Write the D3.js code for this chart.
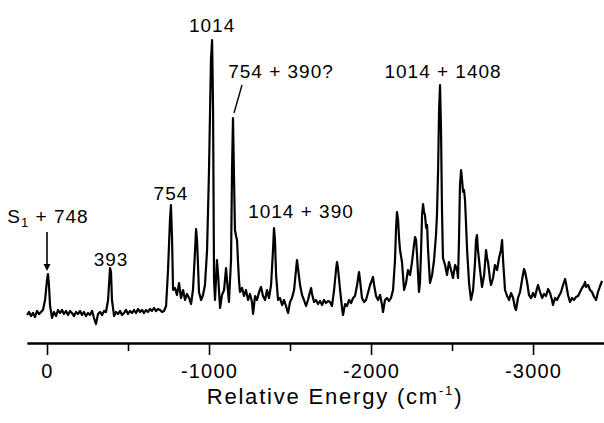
<!DOCTYPE html>
<html>
<head>
  <meta charset="utf-8">
  <title>spectrum</title>
  <script src="https://d3js.org/d3.v7.min.js"></script>
  <style>
  body {
    margin: 0;
    background: white;
  }
  text {
    font-family: "Liberation Sans", Arial, sans-serif;
    fill: black;
  }
  .trace {
    fill: none;
    stroke: black;
    stroke-width: 2.2px;
    stroke-linejoin: round;
  }
  .axis path, .axis line {
    stroke: black;
  }
  .axis path {
    stroke-width: 2px;
  }
  .axis line {
    stroke-width: 1.6px;
  }
  </style>
</head>
<body>
<div id='container'></div>
<script>

// relative energy (cm-1) and intensity (arb. units)
var energy = [123, 111, 99, 86, 74, 62, 49, 37, 25, 12, 0, -6, -12, -19, -31, -43, -56, -68, -80, -93,
  -105, -117, -130, -142, -154, -167, -179, -191, -204, -216, -228, -241, -253, -265, -278, -290, -302, -315, -327, -340,
  -352, -364, -377, -389, -395, -401, -414, -426, -438, -451, -463, -475, -488, -500, -512, -525, -537, -549, -562, -574,
  -586, -599, -611, -623, -636, -648, -660, -673, -685, -698, -710, -722, -735, -747, -759, -765, -772, -778, -790, -802,
  -815, -827, -840, -852, -864, -877, -889, -901, -914, -920, -926, -932, -938, -951, -963, -975, -988, -1000, -1012, -1019,
  -1025, -1031, -1037, -1049, -1056, -1068, -1080, -1093, -1105, -1111, -1123, -1136, -1142, -1148, -1154, -1160, -1167, -1173, -1179, -1185,
  -1191, -1204, -1216, -1228, -1241, -1253, -1265, -1272, -1284, -1296, -1309, -1321, -1333, -1346, -1358, -1370, -1383, -1395, -1401, -1407,
  -1414, -1426, -1438, -1451, -1463, -1475, -1488, -1500, -1512, -1525, -1537, -1543, -1549, -1562, -1574, -1586, -1599, -1611, -1623, -1630,
  -1636, -1648, -1660, -1673, -1685, -1698, -1710, -1722, -1735, -1747, -1759, -1772, -1784, -1790, -1796, -1809, -1821, -1827, -1840, -1852,
  -1864, -1877, -1889, -1901, -1914, -1926, -1932, -1944, -1957, -1969, -1981, -1994, -2006, -2012, -2019, -2031, -2043, -2056, -2068, -2074,
  -2086, -2099, -2111, -2123, -2136, -2148, -2154, -2160, -2167, -2173, -2179, -2191, -2204, -2216, -2228, -2241, -2253, -2265, -2272, -2278,
  -2284, -2296, -2302, -2309, -2315, -2321, -2327, -2333, -2340, -2346, -2352, -2364, -2377, -2389, -2401, -2407, -2414, -2420, -2426, -2432,
  -2438, -2444, -2457, -2469, -2481, -2494, -2506, -2519, -2531, -2537, -2543, -2549, -2556, -2562, -2568, -2574, -2580, -2586, -2593, -2605,
  -2617, -2630, -2642, -2648, -2654, -2660, -2673, -2685, -2698, -2710, -2716, -2722, -2735, -2741, -2753, -2765, -2778, -2790, -2802, -2809,
  -2815, -2827, -2840, -2852, -2864, -2877, -2889, -2895, -2907, -2920, -2932, -2944, -2951, -2963, -2975, -2988, -3000, -3012, -3025, -3031,
  -3043, -3056, -3068, -3080, -3093, -3105, -3117, -3123, -3136, -3148, -3160, -3173, -3185, -3198, -3204, -3216, -3228, -3241, -3253, -3265,
  -3278, -3290, -3302, -3315, -3321, -3327, -3340, -3352, -3364, -3377, -3389, -3401, -3414, -3426]

var intensity = [5, 8, 4, 7, 3, 9, 6, 8, 10, 20, 40, 46, 35, 14, 2, 8, 4, 10, 7, 10,
  6, 9, 5, 9, 7, 4, 8, 6, 9, 5, 8, 4, 7, 5, 9, 2, -4, 6, 8, 5,
  9, 8, 20, 52, 48, 20, 4, 8, 6, 9, 5, 7, 10, 6, 9, 7, 10, 7, 11, 8,
  10, 7, 10, 8, 11, 9, 12, 9, 11, 10, 8, 9, 14, 50, 100, 115, 80, 30, 32, 25,
  37, 22, 30, 20, 26, 22, 16, 30, 70, 91, 80, 55, 28, 20, 25, 35, 70, 150, 260, 280,
  210, 40, 20, 60, 45, 12, 25, 30, 52, 40, 18, 60, 150, 202, 145, 90, 84, 80, 58, 40,
  28, 32, 24, 30, 20, 26, 18, 6, 24, 20, 28, 33, 24, 20, 30, 22, 35, 70, 92, 80,
  45, 20, 22, 15, 20, 14, 7, 18, 22, 30, 50, 60, 52, 35, 25, 20, 14, 20, 28, 32,
  26, 18, 20, 16, 19, 15, 20, 17, 19, 18, 14, 30, 50, 58, 52, 30, 12, 5, 16, 14,
  20, 17, 22, 24, 35, 48, 40, 22, 18, 20, 27, 35, 40, 43, 35, 24, 20, 25, 15, 8,
  20, 22, 19, 22, 30, 60, 90, 108, 100, 82, 70, 58, 30, 37, 50, 45, 58, 75, 83, 80,
  65, 28, 37, 70, 105, 116, 108, 105, 92, 95, 70, 37, 45, 60, 85, 105, 150, 210, 235, 190,
  110, 62, 55, 45, 58, 50, 42, 55, 50, 42, 80, 135, 150, 140, 128, 130, 120, 98, 70, 37,
  20, 30, 58, 80, 85, 70, 50, 33, 45, 70, 62, 58, 40, 35, 42, 55, 50, 62, 70, 80,
  60, 30, 24, 20, 27, 22, 12, 10, 22, 28, 40, 51, 48, 38, 25, 22, 27, 23, 32, 35,
  28, 22, 26, 24, 31, 27, 20, 15, 22, 20, 24, 28, 35, 41, 36, 25, 18, 22, 20, 23,
  24, 28, 32, 35, 38, 33, 35, 30, 28, 23, 20, 28, 34, 39]

// assigned peaks
var peakLabels = ['S1 + 748', '393', '754', '1014', '754 + 390?', '1014 + 390', '1014 + 1408']
var peakEnergy = [0, -395, -765, -1019, -1148, -1401, -2426]

var majorTicks = [0, -1000, -2000, -3000]
var minorTicks = [-500, -1500, -2500]

const width = 604
const height = 423

var data = energy.map((e, i) => ({e: e, v: intensity[i]}))

var svg = d3.select('#container')
  .append('svg')
  .attr('width', width)
  .attr('height', height)

var x = d3.scaleLinear()
  .domain([123.5, -3438])
  .range([27, 604])

var y = d3.scaleLinear()
  .domain([0, 280])
  .range([320, 40])

var axisY = 343

svg.append('g')
  .attr('class', 'axis')
  .attr('transform', 'translate(0,' + axisY + ')')
  .call(d3.axisBottom(x).tickValues(minorTicks).tickSize(8).tickSizeOuter(0).tickFormat(''))
  .call(g => g.selectAll('text').remove())

var xAxis = svg.append('g')
  .attr('class', 'axis')
  .attr('transform', 'translate(0,' + axisY + ')')
  .call(d3.axisBottom(x).tickValues(majorTicks).tickSize(12).tickSizeOuter(0).tickFormat(d => String(d)))

xAxis.selectAll('text')
  .attr('y', 35)
  .attr('dy', 0)
  .style('font-size', '20px')
  .style('letter-spacing', '1.2px')
  .style('font-family', '"Liberation Sans", Arial, sans-serif')
  .style('fill', 'black')

var title = svg.append('text')
  .attr('x', 335)
  .attr('y', 404)
  .attr('text-anchor', 'middle')
  .style('font-size', '22px')
  .style('letter-spacing', '1.8px')
title.append('tspan').text('Relative Energy (cm')
title.append('tspan').attr('dy', -9).style('font-size', '13px').text('-1')
title.append('tspan').attr('dy', 9).text(')')

svg.append('path')
  .datum(data)
  .attr('class', 'trace')
  .attr('d', d3.line().x(d => x(d.e)).y(d => y(d.v)))

// label layout: [dx from peak, gap above peak top]
var layout = [[1, 57], [0, 6], [0, 5], [0, 8], [48, 40], [27, 10], [3, 7]]

peakLabels.forEach((lab, i) => {
  var pt = data.find(d => d.e === peakEnergy[i])
  var px = x(pt.e)
  var top = y(pt.v)
  var lx = px + layout[i][0]
  var ly = top - layout[i][1]

  var t = svg.append('text')
    .attr('x', lx)
    .attr('y', ly)
    .attr('text-anchor', 'middle')
    .style('font-size', '19px')
    .style('letter-spacing', '1px')

  if (lab.indexOf('S1') === 0) {
    t.append('tspan').text('S')
    t.append('tspan').attr('dy', 4).style('font-size', '13px').text('1')
    t.append('tspan').attr('dy', -4).text(lab.slice(2))

    // arrow down to the origin band
    svg.append('line')
      .attr('x1', px).attr('x2', px)
      .attr('y1', ly + 9).attr('y2', top - 14)
      .style('stroke', 'black')
      .style('stroke-width', 1.6)
    svg.append('path')
      .attr('d', 'M' + (px - 3.5) + ',' + (top - 16) + 'L' + (px + 3.5) + ',' + (top - 16) + 'L' + px + ',' + (top - 9) + 'Z')
      .style('fill', 'black')
  } else {
    t.text(lab)
  }

  if (lab === '754 + 390?') {
    svg.append('line')
      .attr('x1', px + 9).attr('y1', top - 33)
      .attr('x2', px + 1).attr('y2', top - 5)
      .style('stroke', 'black')
      .style('stroke-width', 1.4)
  }
})

</script>
</body>
</html>
